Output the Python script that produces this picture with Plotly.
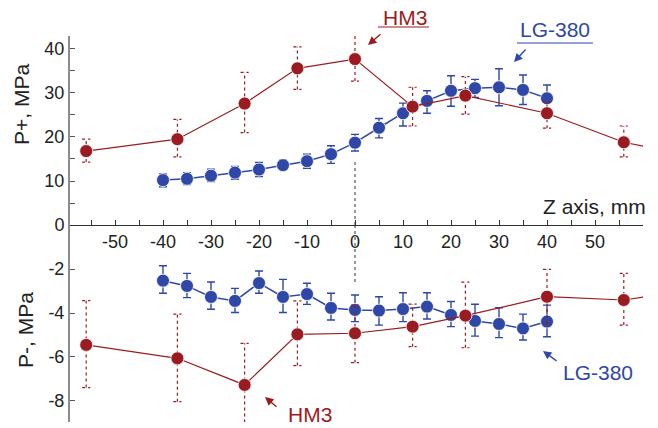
import plotly.graph_objects as go

# ---------------- data ----------------
hm3_z = [-56, -37, -23, -12, 0, 12, 23, 40, 56]
hm3_pp = [16.8, 19.5, 27.6, 35.6, 37.7, 26.9, 29.4, 25.4, 18.8]
hm3_pp_hi = [19.5, 24.0, 34.7, 40.5, 43.3, 31.3, 33.7, 28.0, 22.5]
hm3_pp_lo = [14.3, 15.5, 21.0, 30.8, 32.7, 22.5, 25.2, 22.0, 15.5]
hm3_pm = [-5.45, -6.06, -7.27, -4.97, -4.92, -4.62, -4.12, -3.26, -3.41]
hm3_pm_hi = [-3.44, -4.05, -5.38, -3.45, -3.64, -3.60, -2.60, -2.02, -2.20]
hm3_pm_lo = [-7.39, -8.03, -8.98, -6.39, -6.26, -5.53, -5.58, -4.50, -4.55]
# line continues past the right edge toward an off-chart point
hm3_tail_z = [56, 70]
hm3_tail_pp = [18.8, 15.8]
hm3_tail_pm = [-3.41, -2.95]

lg_z = [-40, -35, -30, -25, -20, -15, -10, -5, 0, 5, 10, 15, 20, 25, 30, 35, 40]
lg_pp = [10.2, 10.5, 11.2, 11.9, 12.6, 13.6, 14.5, 16.1, 18.7, 22.1, 25.4, 28.2,
         30.5, 31.1, 31.3, 30.7, 28.8]
lg_pp_hi = [11.6, 11.9, 12.7, 13.3, 14.2, 14.8, 16.1, 18.0, 20.6, 24.2, 27.7, 30.5,
            33.9, 33.1, 35.5, 34.1, 31.8]
lg_pp_lo = [8.7, 9.2, 9.9, 10.4, 11.0, 12.5, 12.9, 14.0, 16.8, 19.8, 22.5, 25.4,
            27.0, 29.0, 27.1, 27.4, 25.9]
lg_pm = [-2.53, -2.77, -3.27, -3.45, -2.64, -3.27, -3.14, -3.77, -3.86, -3.89,
         -3.82, -3.71, -4.09, -4.36, -4.50, -4.70, -4.39]
lg_pm_hi = [-1.85, -2.20, -2.59, -2.88, -2.09, -2.47, -2.65, -3.10, -3.18, -3.26,
            -3.08, -3.08, -3.48, -3.60, -3.76, -4.05, -3.64]
lg_pm_lo = [-3.10, -3.30, -3.83, -3.98, -3.10, -3.98, -3.61, -4.32, -4.39, -4.55,
            -4.39, -4.27, -4.62, -5.05, -5.12, -5.23, -5.08]

x_tickvals = list(range(-55, 60, 5))
x_ticktext = [str(v) if v % 10 == 0 else "" for v in x_tickvals]
ytop_tickvals = list(range(0, 45, 5))
ytop_ticktext = [str(v) if v % 10 == 0 else "" for v in ytop_tickvals]
ybot_tickvals = [-8, -6, -4, -2]
ybot_ticktext = [str(v) for v in ybot_tickvals]

RED = "#9b1c20"
BLUE = "#2f47a6"
FONT = "Liberation Sans, Arial, sans-serif"

fig = go.Figure()


def dotted_errors(xs, ys_hi, ys_lo, yaxis, cap=0.85):
    ex, ey = [], []
    for x, hi, lo in zip(xs, ys_hi, ys_lo):
        ex += [x, x, None, x - cap, x + cap, None, x - cap, x + cap, None]
        ey += [lo, hi, None, hi, hi, None, lo, lo, None]
    return go.Scatter(x=ex, y=ey, mode="lines", yaxis=yaxis, hoverinfo="skip",
                      line=dict(color=RED, width=1.2, dash="dot"), showlegend=False)


def err(vals, hi, lo):
    return ([h - v for v, h in zip(vals, hi)], [v - l for v, l in zip(vals, lo)])


# LG-380 (blue) first so HM3 sits on top
for ys, hi, lo, ya in [(lg_pp, lg_pp_hi, lg_pp_lo, "y"), (lg_pm, lg_pm_hi, lg_pm_lo, "y2")]:
    up, dn = err(ys, hi, lo)
    fig.add_trace(go.Scatter(
        x=lg_z, y=ys, yaxis=ya, mode="lines+markers", showlegend=False,
        line=dict(color=BLUE, width=1.5),
        marker=dict(size=13, color=BLUE, line=dict(color="rgba(255,255,255,0.8)", width=1)),
        error_y=dict(type="data", array=up, arrayminus=dn, symmetric=False,
                     color=BLUE, thickness=1.4, width=4)))

for ys, hi, lo, tz, ty, ya in [(hm3_pp, hm3_pp_hi, hm3_pp_lo, hm3_tail_z, hm3_tail_pp, "y"),
                               (hm3_pm, hm3_pm_hi, hm3_pm_lo, hm3_tail_z, hm3_tail_pm, "y2")]:
    fig.add_trace(dotted_errors(hm3_z, hi, lo, ya))
    fig.add_trace(go.Scatter(x=tz, y=ty, yaxis=ya, mode="lines", showlegend=False,
                             line=dict(color=RED, width=1.2)))
    fig.add_trace(go.Scatter(
        x=hm3_z, y=ys, yaxis=ya, mode="lines+markers", showlegend=False,
        line=dict(color=RED, width=1.2),
        marker=dict(size=13, color=RED, line=dict(color="rgba(255,255,255,0.8)", width=1))))

# ---------------- layout ----------------
L, R, T, B, W, H = 70, 15, 36, 6, 658, 428
PW, PH = W - L - R, H - T - B


def px(xp):
    return (xp - L) / PW


def py(yp):
    return (H - B - yp) / PH


split = py(225)

fig.update_layout(
    template="none",
    width=W, height=H, margin=dict(l=L, r=R, t=T, b=B, autoexpand=False),
    paper_bgcolor="white", plot_bgcolor="white",
    font=dict(family=FONT, size=18, color="#222"),
    xaxis=dict(range=[-59.375, 60.0], anchor="y", tickvals=x_tickvals, ticktext=x_ticktext,
               ticks="inside", ticklen=5, tickcolor="#333", showline=True, linecolor="#333",
               linewidth=1.2, showgrid=False, zeroline=False, tickfont=dict(size=18),
               automargin=False),
    yaxis=dict(domain=[split, 1], range=[0, 42.95], tickvals=ytop_tickvals, ticktext=ytop_ticktext,
               ticks="inside", ticklen=5, tickcolor="#555", showline=True, linecolor="#8c8c8c",
               linewidth=2, showgrid=False, zeroline=False, tickfont=dict(size=18),
               automargin=False),
    yaxis2=dict(domain=[0, split], range=[-8.955, 0], tickvals=ybot_tickvals, ticktext=ybot_ticktext,
                ticks="inside", ticklen=5, tickcolor="#555", showline=True, linecolor="#8c8c8c",
                linewidth=2, showgrid=False, zeroline=False, anchor="x", tickfont=dict(size=18),
                automargin=False),
)

# dotted marker line at z = 0
fig.add_shape(type="line", xref="x", yref="y", x0=0, x1=0, y0=0, y1=14.3,
              line=dict(color="#333", width=1, dash="dot"))
fig.add_shape(type="line", xref="x", yref="y2", x0=0, x1=0, y0=0, y1=-2.6,
              line=dict(color="#333", width=1, dash="dot"))

# underlines
fig.add_shape(type="line", xref="paper", yref="paper", x0=px(378), x1=px(429), y0=py(27), y1=py(27),
              line=dict(color=RED, width=1.2))
fig.add_shape(type="line", xref="paper", yref="paper", x0=px(517), x1=px(593), y0=py(43), y1=py(43),
              line=dict(color=BLUE, width=1.2))

ann = []
# axis titles
ann.append(dict(text="P+, MPa", x=px(22), y=py(105), textangle=-90, font=dict(size=21)))
ann.append(dict(text="P-, MPa", x=px(25), y=py(330), textangle=-90, font=dict(size=21)))
ann.append(dict(text="Z axis, mm", x=px(648), y=py(206), xanchor="right", font=dict(size=21)))
# series labels
ann.append(dict(text="HM3", x=px(404.5), y=py(17), font=dict(size=21, color=RED)))
ann.append(dict(text="LG-380", x=px(555), y=py(30), font=dict(size=21, color=BLUE)))
ann.append(dict(text="HM3", x=px(310), y=py(414), font=dict(size=21, color=RED)))
ann.append(dict(text="LG-380", x=px(598), y=py(372), font=dict(size=21, color=BLUE)))
for a in ann:
    a.update(xref="paper", yref="paper", showarrow=False)
    a.setdefault("xanchor", "center")
    a["yanchor"] = "middle"

arrows = [
    (368, 45, 14, -12, RED),
    (514, 62, 13, -14, BLUE),
    (265, 397, 13, 11, RED),
    (543, 351, 15, 11, BLUE),
]
for xt, yt, dx, dy, c in arrows:
    ann.append(dict(text="", x=px(xt), y=py(yt), xref="paper", yref="paper", showarrow=True,
                    ax=dx, ay=dy, axref="pixel", ayref="pixel", arrowhead=2, arrowsize=1.2,
                    arrowwidth=1.4, arrowcolor=c, standoff=0, startstandoff=0))

fig.update_layout(annotations=ann)

fig.write_html("out.html", config={"displayModeBar": False},
               post_script="document.body.style.margin='0';document.body.style.overflow='hidden';")
